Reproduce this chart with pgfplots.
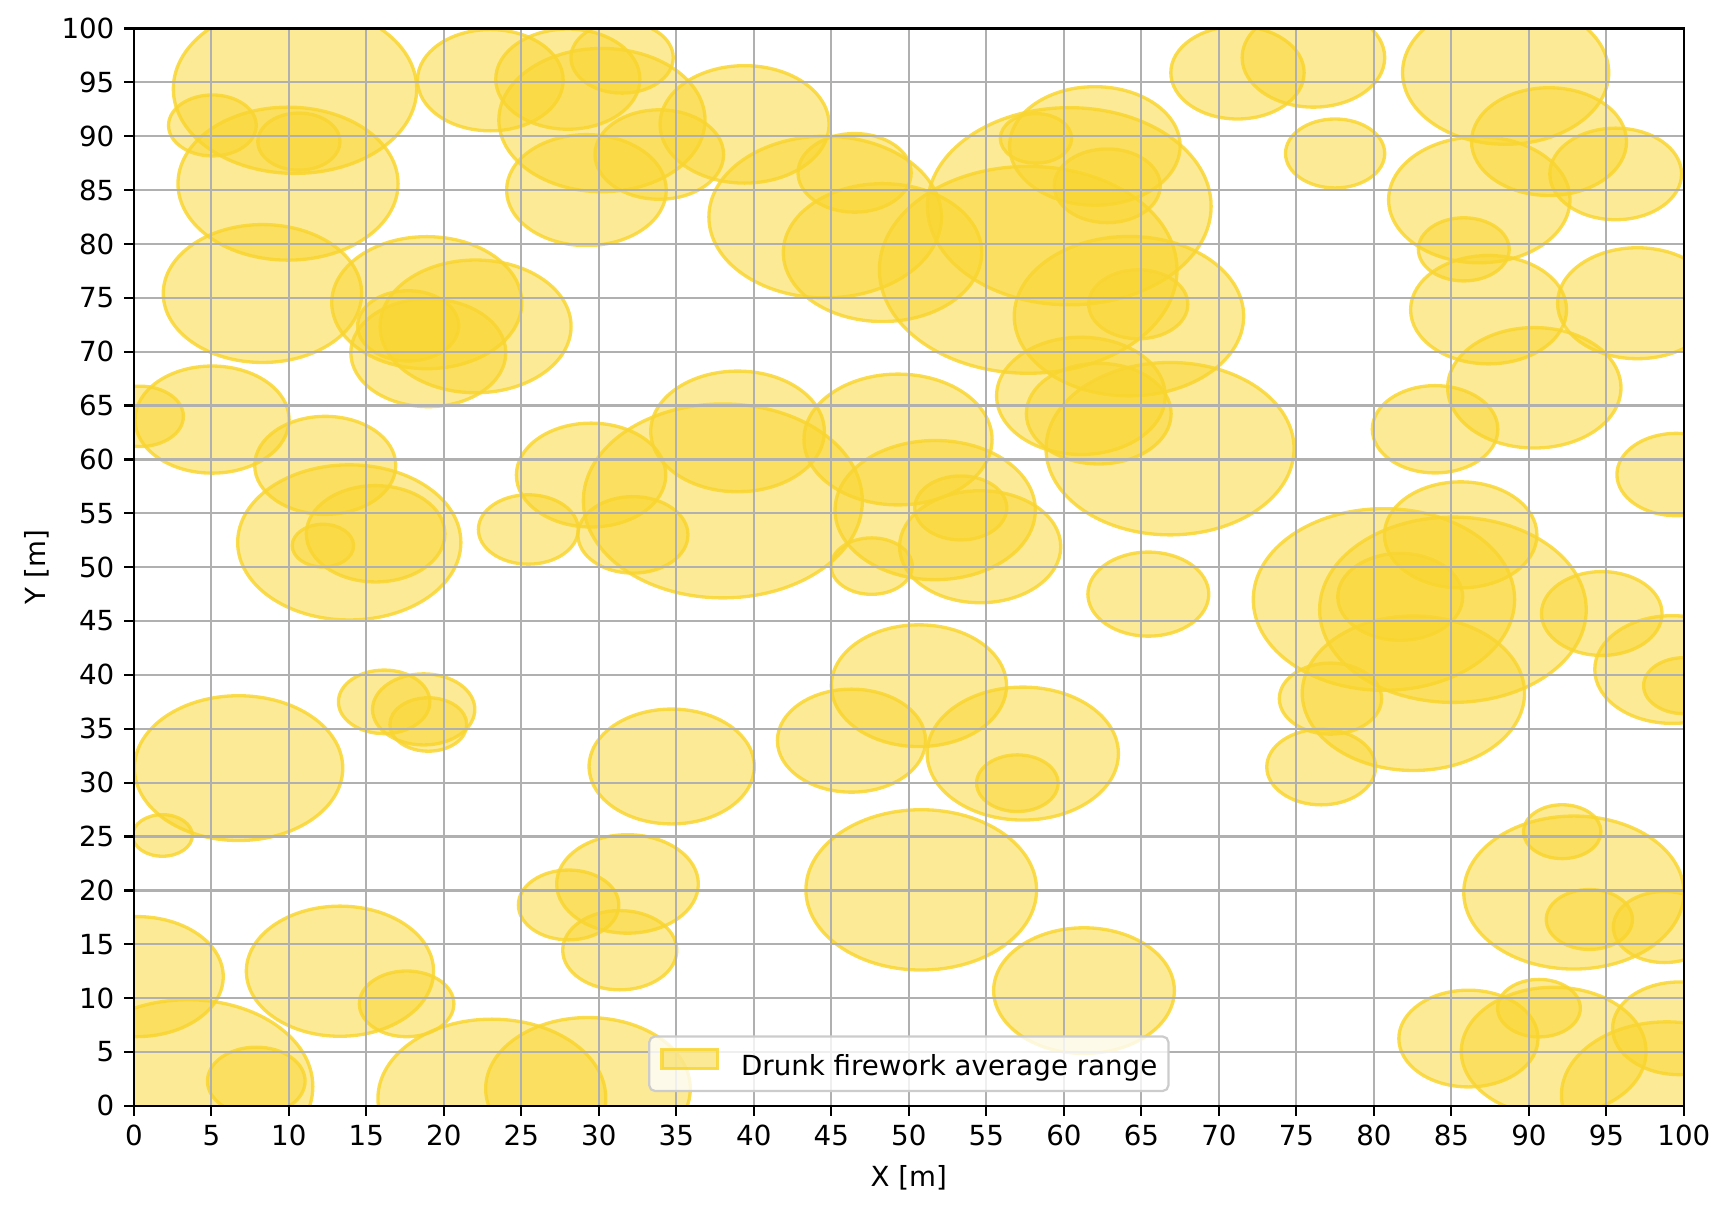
\documentclass[border=0pt]{standalone}
\usepackage{fontspec}
\setmainfont{DejaVu Sans}
\usepackage{pgfplots}
\pgfplotsset{compat=1.18}
\usepackage{pgfplotstable}
\definecolor{fwfill}{RGB}{249,213,45}
\definecolor{fwedge}{RGB}{249,214,50}
\definecolor{gridgray}{HTML}{B0B0B0}
\pgfdeclareplotmark{fwell}{%
  \pgfpathellipse{\pgfpointorigin}{\pgfqpoint{1.4388\pgfplotmarksize}{0pt}}{\pgfqpoint{0pt}{\pgfplotmarksize}}%
  \pgfusepathqfillstroke}
\pgfplotstableread{
x y r
10.4 94.4 7.85
9.95 85.6 7.1
5.07 91.0 2.83
10.65 89.5 2.65
23.0 95.2 4.7
28.0 95.3 4.65
31.5 97.3 3.3
30.2 91.5 6.65
29.2 85.0 5.15
33.9 88.3 4.15
39.4 91.1 5.45
44.6 82.5 7.5
46.5 86.6 3.65
48.3 79.2 6.4
57.7 77.6 9.6
60.35 83.5 9.15
58.2 89.8 2.3
62.0 89.1 5.5
62.8 85.4 3.42
64.2 73.3 7.4
64.8 74.4 3.2
71.2 95.9 4.3
76.1 97.3 4.6
77.5 88.4 3.2
88.5 95.9 6.65
91.3 89.5 5.0
95.6 86.5 4.25
86.8 84.1 5.85
85.8 79.5 2.93
87.4 73.9 5.03
97.0 74.5 5.15
90.35 66.65 5.59
8.3 75.4 6.4
18.9 74.55 6.13
22.05 72.35 6.16
17.7 72.4 3.26
19.0 69.9 5.0
5.05 63.7 4.97
0.4 64.0 2.8
12.35 59.45 4.55
13.9 52.3 7.2
15.6 53.1 4.47
12.2 52.0 1.98
25.45 53.5 3.22
29.5 58.55 4.82
32.2 53.0 3.55
38.0 56.15 9.0
16.15 37.5 2.95
18.7 36.8 3.3
19.0 35.4 2.48
38.95 62.6 5.6
49.3 61.85 6.07
51.7 55.3 6.46
53.35 55.5 2.97
54.6 51.9 5.2
47.6 50.1 2.62
61.1 65.9 5.44
62.25 64.25 4.67
66.85 61.0 8.0
65.45 47.5 3.9
50.65 39.0 5.65
46.3 33.9 4.78
57.35 32.7 6.17
34.7 31.5 5.33
83.95 62.8 4.05
99.5 58.6 3.82
85.6 53.0 4.92
80.65 47.0 8.43
85.1 46.05 8.6
81.7 47.25 4.03
82.55 38.3 7.17
94.7 45.7 3.89
99.25 40.5 5.0
100.0 39.0 2.6
77.2 37.8 3.3
76.6 31.45 3.51
6.76 31.35 6.72
1.85 25.1 1.93
0.2 12.0 5.57
13.3 12.5 6.04
17.6 9.47 3.05
3.5 1.8 8.05
7.9 2.3 3.15
23.1 0.7 7.35
29.3 1.6 6.6
28.05 18.65 3.24
31.85 20.6 4.57
31.35 14.45 3.68
50.8 20.05 7.44
61.3 10.7 5.83
57.0 29.95 2.63
92.15 25.45 2.5
92.9 19.8 7.1
93.9 17.3 2.78
98.75 16.6 3.3
86.1 6.25 4.49
90.65 9.07 2.67
91.6 5.05 5.96
99.7 7.2 4.3
98.9 1.0 6.8
}\circles
\begin{document}
\fontsize{10}{12}\selectfont
\begin{tikzpicture}
\useasboundingbox (-48.35pt,-36.2pt) rectangle (573.15pt,399.6pt);
\begin{axis}[
  at={(0,0)}, anchor=south west,
  scale only axis, width=560.1pt, height=389.3pt,
  xmin=0, xmax=100, ymin=0, ymax=100,
  xtick={0,5,...,100}, ytick={0,5,...,100},
  grid=major, grid style={line width=0.8pt, draw=gridgray},
  axis on top,
  tick pos=left, tick align=outside,
  major tick length=3.5pt,
  every tick/.style={line width=0.8pt, black},
  axis line style={line width=0.8pt, black},
  tick label style={font=\fontsize{10}{12}\selectfont},
  /pgf/number format/assume math mode=true,
  xlabel={X [m]}, ylabel={Y [m]},
  every axis x label/.style={at={(axis description cs:0.5,0)}, anchor=north, inner sep=0pt, yshift=-21.5pt, font=\fontsize{10}{12}\selectfont},
  every axis y label/.style={at={(axis description cs:0,0.5)}, xshift=-30.5pt, rotate=90, anchor=south, inner sep=0pt, font=\fontsize{10}{12}\selectfont},
  clip marker paths=true,
  legend style={at={(0.5,0)}, anchor=south, yshift=5pt, draw=black!20, line width=0.8pt,
    rounded corners=2pt, fill=white, fill opacity=0.8, text opacity=1,
    inner xsep=4pt, inner ysep=4pt, font=\fontsize{10}{12}\selectfont,
    nodes={inner sep=0pt}, column sep=8pt},
]
\addplot[scatter, only marks, mark=fwell, point meta=y,
  visualization depends on={3.893*\thisrow{r} \as \myrad},
  scatter/use mapped color={draw=fwedge, fill=fwfill, draw opacity=0.85, fill opacity=0.5, line width=1.2pt},
  scatter/@pre marker code/.append style={/tikz/mark size=\myrad},
  legend image code/.code={\draw[sharp corners, fill=fwfill, fill opacity=0.5, draw=fwedge, draw opacity=0.85, line width=1.2pt] (0pt,-0.5pt) rectangle (20pt,6.5pt);},
] table[x=x, y=y] {\circles};
\addlegendentry{Drunk firework average range}
\end{axis}
\end{tikzpicture}
\end{document}
